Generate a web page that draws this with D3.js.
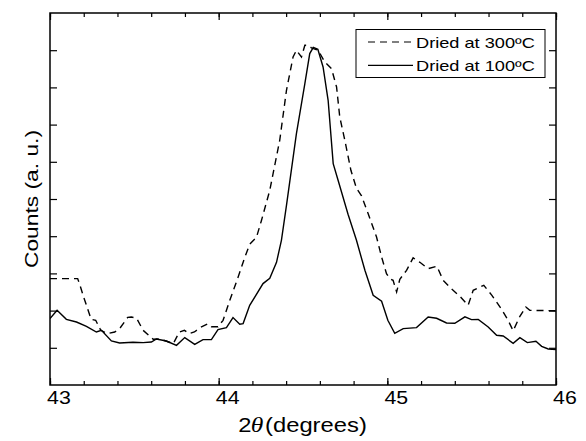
<!DOCTYPE html>
<html>
<head>
<meta charset="utf-8">
<script src="https://cdn.jsdelivr.net/npm/d3@7"></script>
<style>
  body { margin: 0; background: #fff; }
  svg { display: block; font-family: Arial, "Liberation Sans", sans-serif; }
</style>
</head>
<body>
<script>
// 2theta positions and counts (a. u.)

// dried at 100 C (solid)
const theta100 = [43.000, 43.042, 43.097, 43.157, 43.216, 43.275, 43.305, 43.364, 43.413, 43.492,
  43.552, 43.601, 43.631, 43.690, 43.750, 43.799, 43.858, 43.907, 43.957, 43.996,
  44.046, 44.085, 44.125, 44.145, 44.184, 44.263, 44.303, 44.343, 44.372, 44.402,
  44.461, 44.511, 44.540, 44.561, 44.588, 44.619, 44.649, 44.679, 44.708, 44.767,
  44.817, 44.867, 44.916, 44.966, 45.003, 45.044, 45.094, 45.173, 45.242, 45.292,
  45.351, 45.400, 45.460, 45.499, 45.539, 45.598, 45.648, 45.687, 45.746, 45.786,
  45.830, 45.881, 45.915, 45.954, 46.000];
const counts100 = [1.785, 2.008, 1.766, 1.694, 1.578, 1.425, 1.470, 1.183, 1.129, 1.148,
  1.140, 1.156, 1.237, 1.183, 1.067, 1.274, 1.094, 1.220, 1.220, 1.489,
  1.543, 1.812, 1.632, 1.651, 2.142, 2.726, 2.868, 3.298, 3.890, 4.831,
  6.758, 8.102, 8.909, 9.078, 9.024, 8.548, 7.653, 5.952, 5.503, 4.589,
  3.890, 3.083, 2.411, 2.250, 1.739, 1.390, 1.516, 1.543, 1.828, 1.793,
  1.667, 1.659, 1.833, 1.758, 1.761, 1.559, 1.336, 1.317, 1.121, 1.274,
  1.140, 1.175, 1.040, 0.968, 0.952];

// dried at 300 C (dashed)
const theta300 = [43.000, 43.164, 43.176, 43.200, 43.244, 43.271, 43.301, 43.342, 43.384, 43.413,
  43.461, 43.482, 43.514, 43.552, 43.612, 43.651, 43.731, 43.767, 43.797, 43.827,
  43.856, 43.894, 43.935, 43.957, 43.996, 44.026, 44.066, 44.115, 44.155, 44.184,
  44.224, 44.254, 44.303, 44.362, 44.402, 44.441, 44.461, 44.491, 44.511, 44.530,
  44.550, 44.590, 44.629, 44.669, 44.699, 44.718, 44.748, 44.784, 44.817, 44.847,
  44.886, 44.936, 44.966, 44.995, 45.015, 45.034, 45.055, 45.074, 45.114, 45.153,
  45.193, 45.242, 45.294, 45.331, 45.377, 45.430, 45.479, 45.509, 45.572, 45.620,
  45.677, 45.716, 45.746, 45.786, 45.821, 45.845, 46.000];
const counts300 = [2.860, 2.860, 2.707, 2.358, 1.766, 1.739, 1.470, 1.382, 1.425, 1.516,
  1.820, 1.828, 1.793, 1.470, 1.228, 1.237, 1.113, 1.425, 1.470, 1.382,
  1.425, 1.551, 1.645, 1.565, 1.565, 1.739, 2.277, 2.895, 3.433, 3.782,
  3.970, 4.427, 5.234, 6.578, 7.922, 8.817, 8.997, 8.817, 9.132, 9.132,
  9.065, 8.997, 8.683, 8.505, 8.011, 7.204, 6.578, 5.772, 5.288, 5.086,
  4.608, 3.978, 3.441, 2.995, 2.860, 2.815, 2.500, 2.841, 3.083, 3.419,
  3.298, 3.129, 3.191, 2.815, 2.599, 2.384, 2.142, 2.546, 2.680, 2.411,
  2.035, 1.739, 1.457, 1.847, 2.097, 2.008, 1.995];

const xTicks = [43, 44, 45, 46];
const yTicks = [1, 2, 3, 4, 5, 6, 7, 8, 9];
const seriesNames = ["Dried at 300ºC", "Dried at 100ºC"];

const width = 586, height = 441;
const margin = {top: 13, right: 30, bottom: 56, left: 50};

const svg = d3.select("body").append("svg")
  .attr("width", width)
  .attr("height", height);

const x = d3.scaleLinear().domain([43, 46]).range([margin.left, width - margin.right]);
const y = d3.scaleLinear().domain([0, 10]).range([height - margin.bottom, margin.top]);

const pw = x.range()[1] - x.range()[0];
const ph = y.range()[0] - y.range()[1];

// axes, ticks pointing inward on all four sides
const minorX = d3.range(43, 46.001, 0.2);

svg.append("g")
  .attr("transform", `translate(0,${y(0)})`)
  .call(d3.axisBottom(x).tickValues(minorX).tickSize(-4).tickFormat(""))
  .call(g => g.select(".domain").remove());
svg.append("g")
  .attr("transform", `translate(0,${y(0)})`)
  .call(d3.axisBottom(x).tickValues(xTicks).tickSize(-7).tickFormat(d3.format("d")))
  .call(g => g.select(".domain").remove())
  .call(g => g.selectAll("text")
    .attr("y", null).attr("dy", null)
    .attr("transform", "translate(8.5,18.8) scale(1.22,1)")
    .attr("font-size", 17.5).attr("fill", "#000")
    .attr("font-family", "Arial, 'Liberation Sans', sans-serif"));

svg.append("g")
  .attr("transform", `translate(0,${y(10)})`)
  .call(d3.axisTop(x).tickValues(minorX).tickSize(-4).tickFormat(""))
  .call(g => g.select(".domain").remove());
svg.append("g")
  .attr("transform", `translate(0,${y(10)})`)
  .call(d3.axisTop(x).tickValues(xTicks).tickSize(-7).tickFormat(""))
  .call(g => g.select(".domain").remove());

svg.append("g")
  .attr("transform", `translate(${x(43)},0)`)
  .call(d3.axisLeft(y).tickValues(yTicks).tickSize(-7).tickFormat(""))
  .call(g => g.select(".domain").remove());
svg.append("g")
  .attr("transform", `translate(${x(46)},0)`)
  .call(d3.axisRight(y).tickValues(yTicks).tickSize(-7).tickFormat(""))
  .call(g => g.select(".domain").remove());

svg.selectAll(".tick line").attr("stroke", "#000").attr("stroke-width", 1.2);

// frame
svg.append("rect")
  .attr("x", x(43)).attr("y", y(10))
  .attr("width", pw).attr("height", ph)
  .attr("fill", "none").attr("stroke", "#000").attr("stroke-width", 1.5);

// curves
const line = d3.line().x(d => x(d[0])).y(d => y(d[1]));
svg.append("clipPath").attr("id", "clip")
  .append("rect").attr("x", x(43)).attr("y", y(10)).attr("width", pw).attr("height", ph);

svg.append("path")
  .datum(d3.zip(theta300, counts300))
  .attr("clip-path", "url(#clip)")
  .attr("fill", "none").attr("stroke", "#000").attr("stroke-width", 1.4)
  .attr("stroke-dasharray", "7,5")
  .attr("d", line);

svg.append("path")
  .datum(d3.zip(theta100, counts100))
  .attr("clip-path", "url(#clip)")
  .attr("fill", "none").attr("stroke", "#000").attr("stroke-width", 1.4)
  .attr("d", line);

// legend
const legend = svg.append("g");
legend.append("rect")
  .attr("x", 356).attr("y", 29.5).attr("width", 189).attr("height", 48)
  .attr("fill", "#fff").attr("stroke", "#000").attr("stroke-width", 1);
seriesNames.forEach((name, i) => {
  const ly = 42 + i * 23.3;
  legend.append("line")
    .attr("x1", 368).attr("x2", 413).attr("y1", ly).attr("y2", ly)
    .attr("stroke", "#000").attr("stroke-width", 1.2)
    .attr("stroke-dasharray", i === 0 ? "7,5" : null);
  legend.append("text")
    .attr("transform", `translate(416,${ly + 5.7}) scale(1.3,1)`)
    .attr("font-size", 14)
    .text(name);
});

// axis titles
const xl = svg.append("text")
  .attr("transform", "translate(238.3,431.5) scale(1.22,1)")
  .attr("font-size", 19.5);
xl.append("tspan").attr("x", 0).text("2");
xl.append("tspan").attr("x", 10.2)
  .attr("font-style", "italic")
  .attr("font-family", "'Times New Roman', 'Liberation Serif', serif")
  .attr("font-size", 21).text("θ");
xl.append("tspan").attr("x", 21.9).text("(degrees)");

svg.append("text")
  .attr("transform", `translate(38,${(y(0) + y(10)) / 2}) rotate(-90) scale(1.2,1)`)
  .attr("text-anchor", "middle")
  .attr("font-size", 19)
  .text("Counts (a. u.)");
</script>
</body>
</html>
